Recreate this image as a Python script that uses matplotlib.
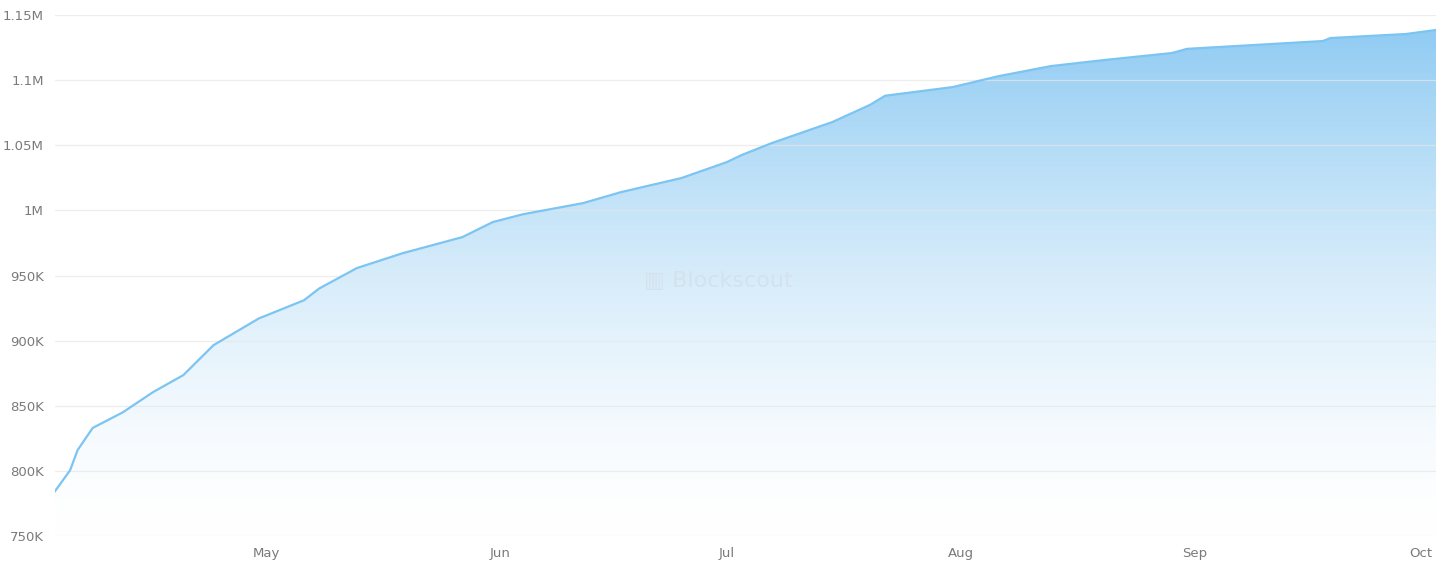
import numpy as np
import pandas as pd
import matplotlib.pyplot as plt
import matplotlib.dates as mdates
from matplotlib.ticker import FuncFormatter

# approximate cumulative values
dates = pd.to_datetime([
    "2024-04-03", "2024-04-05", "2024-04-06", "2024-04-08", "2024-04-12", "2024-04-16",
    "2024-04-20", "2024-04-24", "2024-04-30", "2024-05-06", "2024-05-08", "2024-05-13",
    "2024-05-19", "2024-05-27", "2024-05-31", "2024-06-04", "2024-06-12", "2024-06-17",
    "2024-06-25", "2024-07-01", "2024-07-03", "2024-07-07", "2024-07-15", "2024-07-20",
    "2024-07-22", "2024-07-31", "2024-08-06", "2024-08-13", "2024-08-20", "2024-08-29",
    "2024-08-31", "2024-09-09", "2024-09-18", "2024-09-19", "2024-09-29", "2024-10-03",
])
values = [
    784400, 800500, 816000, 833000, 845000, 860500,
    873500, 896500, 917000, 931000, 940000, 955700,
    967000, 979500, 991000, 997000, 1005600, 1014000,
    1024800, 1037000, 1042500, 1051700, 1067800, 1081000,
    1088000, 1094700, 1103000, 1110800, 1115400, 1120800,
    1124000, 1127000, 1130000, 1132300, 1135400, 1138500,
]
y_ticks = [750000, 800000, 850000, 900000, 950000, 1000000, 1050000, 1100000, 1150000]

fig = plt.figure(figsize=(14.56, 5.67), dpi=100)
ax = fig.add_axes([55 / 1456, 31 / 567, 1381 / 1456, 521 / 567])

x = mdates.date2num(dates)
ax.plot(x, values, color="#7cc4f2", lw=1.6, zorder=4)

# gradient fill under the line
ymin, ymax = 750000, 1150000
grad = np.linspace(0, 1, 256).reshape(-1, 1)
top = np.array([0.55, 0.79, 0.95])
bot = np.array([1.0, 1.0, 1.0])
rgb = bot + (top - bot) * grad ** 1.5
img = ax.imshow(rgb[:, None, :].repeat(2, axis=1), extent=[x[0], x[-1], ymin, ymax],
                origin="lower", aspect="auto", zorder=2)
clip = plt.Polygon(np.column_stack([np.r_[x, x[-1], x[0]], np.r_[values, ymin, ymin]]),
                   transform=ax.transData, facecolor="none", edgecolor="none")
ax.add_patch(clip)
img.set_clip_path(clip)

for yt in y_ticks:
    ax.axhline(yt, color="#e6e6e6", lw=0.9, alpha=0.7, zorder=3)

ax.set_xlim(x[0], x[-1])
ax.set_ylim(ymin, ymax)
ax.set_yticks(y_ticks)


def fmt(v, _):
    if v >= 1e6:
        return f"{v / 1e6:g}M"
    return f"{v / 1e3:g}K"


ax.yaxis.set_major_formatter(FuncFormatter(fmt))
ax.xaxis.set_major_locator(mdates.MonthLocator())
ax.xaxis.set_major_formatter(mdates.DateFormatter("%b"))
for s in ax.spines.values():
    s.set_visible(False)
ax.tick_params(length=0, colors="#7a7a7a", labelsize=9.5)
ax.tick_params(axis="y", pad=8)
ax.tick_params(axis="x", pad=8)

ax.text(0.48, 0.49, "\u25a5 Blockscout", transform=ax.transAxes, ha="center", va="center",
        fontsize=16, color="#d3e2ee", zorder=5)

fig.savefig("out.png", dpi=100)
